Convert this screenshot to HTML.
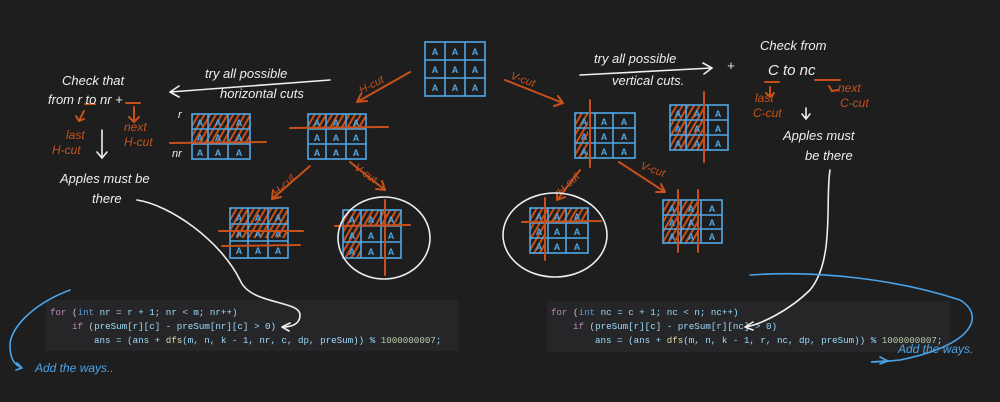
<!DOCTYPE html>
<html><head><meta charset="utf-8"><style>
html,body{margin:0;padding:0;background:#1e1e1e;}
svg{display:block}
.hw{font-family:"Liberation Sans",sans-serif;font-style:italic;}
.code{font-family:"Liberation Mono",monospace;font-size:9.2px;}
</style></head><body>
<svg width="1000" height="402" viewBox="0 0 1000 402" xmlns="http://www.w3.org/2000/svg">
<rect width="1000" height="402" fill="#1e1e1e"/>
<defs>
<pattern id="h" width="5" height="5" patternUnits="userSpaceOnUse" patternTransform="rotate(30)">
<rect width="2" height="5" fill="#c8501a"/></pattern>
</defs>

<!-- code blocks -->
<rect x="46" y="300" width="412" height="51" fill="#262628"/>
<g class="code">
<text x="50" y="315"><tspan fill="#c586c0">for</tspan><tspan fill="#cccccc"> (</tspan><tspan fill="#569cd6">int</tspan><tspan fill="#9cdcfe"> nr = r + 1; nr &lt; m; nr++)</tspan></text>
<text x="72" y="329"><tspan fill="#c586c0">if</tspan><tspan fill="#cccccc"> (</tspan><tspan fill="#9cdcfe">preSum[r][c] - preSum[nr][c] &gt; 0)</tspan></text>
<text x="94" y="343" fill="#9cdcfe">ans = (ans + <tspan fill="#dcdcaa">dfs</tspan>(m, n, k - 1, nr, c, dp, preSum)) % <tspan fill="#b5cea8">1000000007</tspan>;</text>
</g>
<rect x="547" y="301" width="403" height="51" fill="#262628"/>
<g class="code">
<text x="551" y="315"><tspan fill="#c586c0">for</tspan><tspan fill="#cccccc"> (</tspan><tspan fill="#569cd6">int</tspan><tspan fill="#9cdcfe"> nc = c + 1; nc &lt; n; nc++)</tspan></text>
<text x="573" y="329"><tspan fill="#c586c0">if</tspan><tspan fill="#cccccc"> (</tspan><tspan fill="#9cdcfe">preSum[r][c] - preSum[r][nc] &gt; 0)</tspan></text>
<text x="595" y="343" fill="#9cdcfe">ans = (ans + <tspan fill="#dcdcaa">dfs</tspan>(m, n, k - 1, r, nc, dp, preSum)) % <tspan fill="#b5cea8">1000000007</tspan>;</text>
</g>

<!-- grids -->
<g font-family="Liberation Sans,sans-serif" font-size="9" font-weight="bold" fill="#4fa8e8" text-anchor="middle">
<g transform="translate(425,42)">
<rect width="60" height="54" fill="none" stroke="#4fa8e8" stroke-width="1.6"/>
<path d="M0 18H60M0 36H60M20 0V54M40 0V54" stroke="#4fa8e8" stroke-width="1.6"/>
<text x="10" y="13">A</text><text x="30" y="13">A</text><text x="50" y="13">A</text>
<text x="10" y="31">A</text><text x="30" y="31">A</text><text x="50" y="31">A</text>
<text x="10" y="49">A</text><text x="30" y="49">A</text><text x="50" y="49">A</text>
</g>
<g transform="translate(192,114)">
<rect x="0" y="0" width="58" height="30" fill="url(#h)"/>
<rect width="58" height="45" fill="none" stroke="#4fa8e8" stroke-width="1.6"/>
<path d="M0 15H58M0 30H58M16 0V45M36 0V45" stroke="#4fa8e8" stroke-width="1.6"/>
<text x="8" y="12">A</text><text x="26" y="12">A</text><text x="47" y="12">A</text>
<text x="8" y="27">A</text><text x="26" y="27">A</text><text x="47" y="27">A</text>
<text x="8" y="42">A</text><text x="26" y="42">A</text><text x="47" y="42">A</text>
</g>
<g transform="translate(308,114)">
<rect x="0" y="0" width="58" height="15" fill="url(#h)"/>
<rect width="58" height="45" fill="none" stroke="#4fa8e8" stroke-width="1.6"/>
<path d="M0 15H58M0 30H58M18 0V45M38 0V45" stroke="#4fa8e8" stroke-width="1.6"/>
<text x="9" y="12">A</text><text x="28" y="12">A</text><text x="48" y="12">A</text>
<text x="9" y="27">A</text><text x="28" y="27">A</text><text x="48" y="27">A</text>
<text x="9" y="42">A</text><text x="28" y="42">A</text><text x="48" y="42">A</text>
</g>
<g transform="translate(230,208)">
<rect x="0" y="0" width="58" height="30" fill="url(#h)"/>
<rect width="58" height="50" fill="none" stroke="#4fa8e8" stroke-width="1.6"/>
<path d="M0 16H58M0 33H58M18 0V50M38 0V50" stroke="#4fa8e8" stroke-width="1.6"/>
<text x="9" y="13">A</text><text x="28" y="13">A</text><text x="48" y="13">A</text>
<text x="9" y="29">A</text><text x="28" y="29">A</text><text x="48" y="29">A</text>
<text x="9" y="46">A</text><text x="28" y="46">A</text><text x="48" y="46">A</text>
</g>
<g transform="translate(343,210)">
<rect x="0" y="0" width="58" height="15" fill="url(#h)"/>
<rect x="0" y="15" width="18" height="33" fill="url(#h)"/>
<rect width="58" height="48" fill="none" stroke="#4fa8e8" stroke-width="1.6"/>
<path d="M0 16H58M0 32H58M18 0V48M38 0V48" stroke="#4fa8e8" stroke-width="1.6"/>
<text x="9" y="13">A</text><text x="28" y="13">A</text><text x="48" y="13">A</text>
<text x="9" y="29">A</text><text x="28" y="29">A</text><text x="48" y="29">A</text>
<text x="9" y="45">A</text><text x="28" y="45">A</text><text x="48" y="45">A</text>
</g>
<g transform="translate(575,113)">
<rect x="0" y="0" width="13" height="45" fill="url(#h)"/>
<rect width="60" height="45" fill="none" stroke="#4fa8e8" stroke-width="1.6"/>
<path d="M0 15H60M0 30H60M20 0V45M38 0V45" stroke="#4fa8e8" stroke-width="1.6"/>
<text x="9" y="12">A</text><text x="29" y="12">A</text><text x="49" y="12">A</text>
<text x="9" y="27">A</text><text x="29" y="27">A</text><text x="49" y="27">A</text>
<text x="9" y="42">A</text><text x="29" y="42">A</text><text x="49" y="42">A</text>
</g>
<g transform="translate(670,105)">
<rect x="0" y="0" width="34" height="45" fill="url(#h)"/>
<rect width="58" height="45" fill="none" stroke="#4fa8e8" stroke-width="1.6"/>
<path d="M0 15H58M0 30H58M16 0V45M38 0V45" stroke="#4fa8e8" stroke-width="1.6"/>
<text x="8" y="12">A</text><text x="27" y="12">A</text><text x="48" y="12">A</text>
<text x="8" y="27">A</text><text x="27" y="27">A</text><text x="48" y="27">A</text>
<text x="8" y="42">A</text><text x="27" y="42">A</text><text x="48" y="42">A</text>
</g>
<g transform="translate(530,208)">
<rect x="0" y="0" width="58" height="14" fill="url(#h)"/>
<rect x="0" y="14" width="15" height="32" fill="url(#h)"/>
<rect width="58" height="45" fill="none" stroke="#4fa8e8" stroke-width="1.6"/>
<path d="M0 15H58M0 30H58M18 0V45M36 0V45" stroke="#4fa8e8" stroke-width="1.6"/>
<text x="9" y="12">A</text><text x="27" y="12">A</text><text x="47" y="12">A</text>
<text x="9" y="27">A</text><text x="27" y="27">A</text><text x="47" y="27">A</text>
<text x="9" y="42">A</text><text x="27" y="42">A</text><text x="47" y="42">A</text>
</g>
<g transform="translate(663,200)">
<rect x="0" y="0" width="35" height="43" fill="url(#h)"/>
<rect width="59" height="43" fill="none" stroke="#4fa8e8" stroke-width="1.6"/>
<path d="M0 15H59M0 29H59M18 0V43M38 0V43" stroke="#4fa8e8" stroke-width="1.6"/>
<text x="9" y="12">A</text><text x="28" y="12">A</text><text x="49" y="12">A</text>
<text x="9" y="26">A</text><text x="28" y="26">A</text><text x="49" y="26">A</text>
<text x="9" y="40">A</text><text x="28" y="40">A</text><text x="49" y="40">A</text>
</g>
</g>

<g stroke="#c8501a" stroke-width="2" fill="none" stroke-linecap="round">
<path d="M170 143L266 142"/>
<path d="M290 128L388 127"/>
<path d="M219 231L303 231M222 246L300 245"/>
<path d="M335 226L410 225M385 200V275"/>
<path d="M522 222L601 221M545 198V260"/>
<path d="M590 100V167"/>
<path d="M704 92V162"/>
<path d="M678 190V252M698 190V252"/>
<path d="M410 72L357 102M357 102l10-1M357 102l4-8"/>
<path d="M505 80L563 103M563 103l-9 3M563 103l-5-7"/>
<path d="M310 166L272 199M272 199l9-2M272 199l1-9"/>
<path d="M350 162L385 190M385 190l-3-9M385 190l-9-1"/>
<path d="M580 170L557 200M557 200l8-3M557 200l0-8"/>
<path d="M619 162L665 192M665 192l-4-8M665 192l-9 0"/>
<path d="M84 111l-5 10M79 121l-3-5M79 121l5-2"/>
<path d="M134 107v15M129 117l5 5 5-5"/>
<path d="M85 104h10M126 103h14"/>
<path d="M765 82h14M815 80h25"/>
<path d="M770 87v10M766 93l4 4 4-4"/>
<path d="M829 86l3 5 6 -1"/>
</g>
<g class="hw" fill="#c8501a" font-size="11">
<text x="358" y="88" transform="rotate(-28 372 84)">H-cut</text>
<text x="510" y="82" transform="rotate(20 520 80)">V-cut</text>
<text x="270" y="190" transform="rotate(-45 282 185)">H-cut</text>
<text x="355" y="176" transform="rotate(35 365 170)">V-cut</text>
<text x="555" y="190" transform="rotate(-45 565 185)">H-cut</text>
<text x="640" y="172" transform="rotate(20 650 170)">V-cut</text>
<text x="66" y="139" font-size="12">last</text>
<text x="52" y="154" font-size="12">H-cut</text>
<text x="124" y="131" font-size="12">next</text>
<text x="124" y="146" font-size="12">H-cut</text>
<text x="755" y="102" font-size="12">last</text>
<text x="753" y="117" font-size="12">C-cut</text>
<text x="838" y="92" font-size="12">next</text>
<text x="840" y="107" font-size="12">C-cut</text>
</g>

<g class="hw" fill="#eeeeee" font-size="13">
<text x="62" y="85">Check that</text>
<text x="48" y="104">from  r  to  nr  +</text>
<text x="60" y="183">Apples must be</text>
<text x="92" y="203">there</text>
<text x="205" y="78">try all  possible</text>
<text x="220" y="98">horizontal  cuts</text>
<text x="178" y="118" font-size="11">r</text>
<text x="172" y="157" font-size="11">nr</text>
<text x="594" y="63">try all  possible</text>
<text x="612" y="85">vertical  cuts.</text>
<text x="727" y="70">+</text>
<text x="760" y="50">Check from</text>
<text x="768" y="75" font-size="15">C   to   nc</text>
<text x="783" y="140">Apples must</text>
<text x="805" y="160">be  there</text>
</g>
<g stroke="#eeeeee" stroke-width="1.6" fill="none" stroke-linecap="round">
<path d="M170 92L330 80M170 92l9-6M170 92l9 5"/>
<path d="M580 75L712 68M712 68l-9-5M712 68l-8 6"/>
<path d="M102 130V157M97 152l5 6 5-6"/>
<path d="M806 108V119M802 114l4 5 4-5"/>
<ellipse cx="384" cy="238" rx="46" ry="41"/>
<ellipse cx="555" cy="235" rx="52" ry="42"/>
<path d="M137 200C170 205 220 240 240 280C250 305 300 300 300 315C300 325 290 327 282 327M282 327l8-4M282 327l7 4"/>
<path d="M830 170C825 200 835 260 810 290C790 310 760 325 745 327M745 327l8-5M745 327l8 3"/>
</g>
<g fill="none" stroke="#4aa3e8" stroke-width="1.6" stroke-linecap="round">
<path d="M70 290C30 305 10 330 10 345C10 360 15 365 22 368M22 368l-5-5M22 368l-6 2"/>
<path d="M750 275C820 270 900 280 960 300C985 315 975 345 900 360C870 363 860 362 888 361"/>
<path d="M888 361l-8-4M888 361l-8 3"/>
</g>
<g class="hw" fill="#4aa3e8" font-size="12">
<text x="35" y="372">Add  the  ways..</text>
<text x="898" y="353">Add  the  ways.</text>
</g>
</svg>
</body></html>
